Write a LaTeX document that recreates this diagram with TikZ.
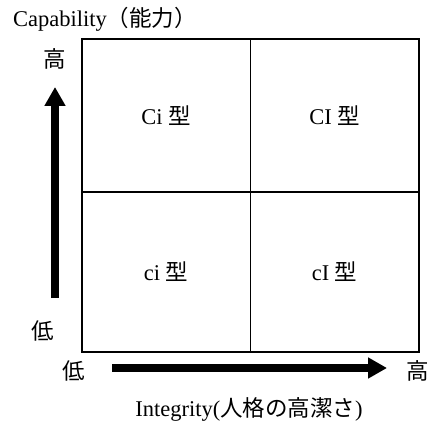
\documentclass[tikz,border=0pt]{standalone}
\usepackage{fontspec}
\setmainfont{Liberation Serif}
\newfontfamily\cjk{Noto Sans CJK JP}
\usetikzlibrary{arrows.meta}
\begin{document}
\begin{tikzpicture}[x=1pt,y=-1pt,
  lbl/.style={font=\fontsize{22.5}{26}\selectfont, inner sep=0pt},
  cell/.style={draw, line width=1.8pt, minimum width=168.5pt, inner sep=0pt},
  bigarrow/.style={line width=7.5pt, -{Triangle[length=19pt,width=20pt]}}]
\useasboundingbox (0,0) rectangle (433,422);
\node[cell, minimum height=153pt, anchor=north west] (q1) at (81,38) {};
\node[cell, minimum height=153pt, anchor=north west] (q2) at (249.5,38) {};
\node[cell, minimum height=160pt, anchor=north west] (q3) at (81,191) {};
\node[cell, minimum height=160pt, anchor=north west] (q4) at (249.5,191) {};
\node[lbl] (t1) at (q1.center) {Ci {\cjk 型}};
\node[lbl] (t2) at (q2.center) {CI {\cjk 型}};
\node[lbl] (t3) at (q3.center) {ci {\cjk 型}};
\node[lbl] (t4) at (q4.center) {cI {\cjk 型}};
\node[lbl, anchor=west] (cap) at (13,19) {Capability{\cjk （能力）}};
\node[lbl] (yh) at (55,59) {\cjk 高};
\node[lbl] (yl) at (43,331) {\cjk 低};
\node[lbl] (xl) at (74,371) {\cjk 低};
\node[lbl] (xh) at (418,371) {\cjk 高};
\node[lbl] (integ) at (249,409) {Integrity({\cjk 人格の高潔さ})};
\coordinate (ya) at (55,298);
\coordinate (yb) at (55,87);
\coordinate (xa) at (112,368);
\coordinate (xb) at (387,368);
\draw[bigarrow] (ya) -- (yb);
\draw[bigarrow] (xa) -- (xb);
\end{tikzpicture}
\end{document}
